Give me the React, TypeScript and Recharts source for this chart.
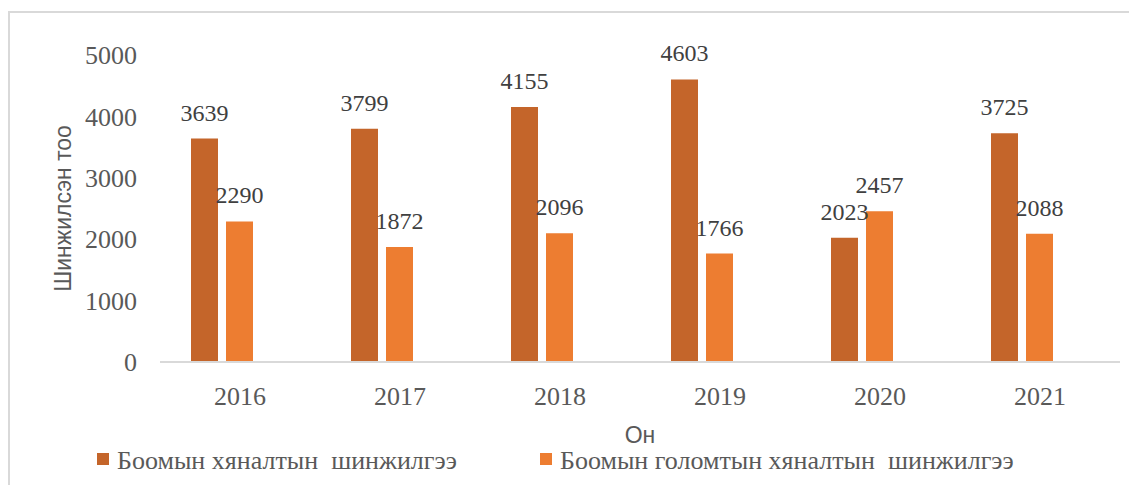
import React from "react";
import { BarChart, Bar, XAxis, YAxis, Legend, LabelList } from "recharts";

// values
const years = ["2016", "2017", "2018", "2019", "2020", "2021"];
const borderChecks = [3639, 3799, 4155, 4603, 2023, 3725];
const focalChecks = [2290, 1872, 2096, 1766, 2457, 2088];
// the original has an empty third series that still takes a bar slot
const emptySeries = [null, null, null, null, null, null];
const yTicks = [0, 1000, 2000, 3000, 4000, 5000];

const seriesNames = [
  "Боомын хяналтын  шинжилгээ",
  "Боомын голомтын хяналтын  шинжилгээ",
];

const DARK = "#C4652A";
const LIGHT = "#ED7D31";
const SERIF = "'Liberation Serif', 'Times New Roman', serif";
const SANS = "'Liberation Sans', Arial, sans-serif";

const data = years.map((year, i) => ({
  year,
  border: borderChecks[i],
  focal: focalChecks[i],
  empty: emptySeries[i],
}));

function YTitle(props: any) {
  const vb = props.viewBox;
  const x = vb.x + 55;
  const y = vb.y + vb.height / 2;
  return (
    <text
      x={x}
      y={y}
      transform={`rotate(-90, ${x}, ${y})`}
      textAnchor="middle"
      dominantBaseline="central"
      fill="#595959"
      fontFamily={SANS}
      fontSize={23}
    >
      Шинжилсэн тоо
    </text>
  );
}

function XTitle(props: any) {
  const vb = props.viewBox;
  return (
    <text
      x={vb.x + vb.width / 2}
      y={vb.y + 81}
      textAnchor="middle"
      fill="#595959"
      fontFamily={SANS}
      fontSize={23}
    >
      Он
    </text>
  );
}

function LegendBox() {
  const items = [
    { name: seriesNames[0], color: DARK, left: 89 },
    { name: seriesNames[1], color: LIGHT, left: 532 },
  ];
  return (
    <div style={{ position: "relative", height: 43 }}>
      {items.map((it) => (
        <React.Fragment key={it.name}>
          <div
            style={{
              position: "absolute",
              left: it.left,
              top: 11,
              width: 12,
              height: 12,
              background: it.color,
            }}
          />
          <div
            style={{
              position: "absolute",
              left: it.left + 20,
              top: 4,
              whiteSpace: "pre",
              fontFamily: SERIF,
              fontSize: 26,
              lineHeight: "30px",
              color: "#595959",
            }}
          >
            {it.name}
          </div>
        </React.Fragment>
      ))}
    </div>
  );
}

export default function App() {
  return (
    <div style={{ position: "relative", width: 1129, height: 477, overflow: "hidden" }}>
      <div
        style={{
          position: "absolute",
          left: 0,
          top: 3,
          width: 1200,
          height: 600,
          borderLeft: "2px solid #d9d9d9",
          borderTop: "2px solid #d9d9d9",
        }}
      />
      <BarChart
        width={1129}
        height={477}
        data={data}
        margin={{ top: 47, right: 17, left: 0, bottom: 0 }}
        barCategoryGap={31}
        barGap={8}
      >
        <XAxis
          dataKey="year"
          axisLine={{ stroke: "#d9d9d9", strokeWidth: 2 }}
          tickLine={false}
          tickSize={0}
          tickMargin={25}
          height={80}
          tick={{ fill: "#595959", fontSize: 26, fontFamily: SERIF }}
          label={<XTitle />}
        />
        <YAxis
          domain={[0, 5000]}
          ticks={yTicks}
          axisLine={false}
          tickLine={false}
          tickSize={0}
          tickMargin={23}
          width={152}
          tick={{ fill: "#595959", fontSize: 26, fontFamily: SERIF }}
          label={<YTitle />}
        />
        <Legend
          verticalAlign="bottom"
          height={43}
          wrapperStyle={{ left: 0, width: 1129 }}
          content={<LegendBox />}
        />
        <Bar dataKey="border" name={seriesNames[0]} fill={DARK} isAnimationActive={false}>
          <LabelList dataKey="border" position="top" offset={18} fill="#404040" fontSize={24} fontFamily={SERIF} />
        </Bar>
        <Bar dataKey="focal" name={seriesNames[1]} fill={LIGHT} isAnimationActive={false}>
          <LabelList dataKey="focal" position="top" offset={18} fill="#404040" fontSize={24} fontFamily={SERIF} />
        </Bar>
        <Bar dataKey="empty" legendType="none" fill={LIGHT} isAnimationActive={false} />
      </BarChart>
    </div>
  );
}
